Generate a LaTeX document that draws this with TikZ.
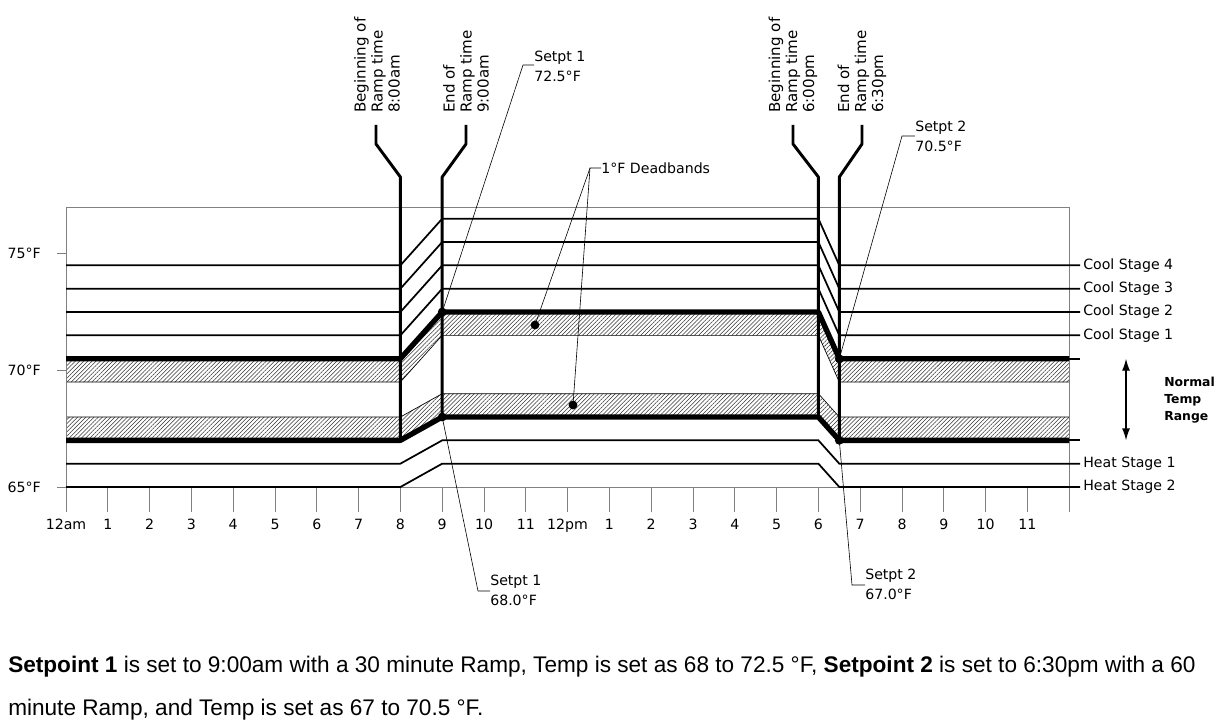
\documentclass[tikz,border=0pt]{standalone}
\usepackage{fontspec}
\setmainfont{DejaVu Sans}
\newfontfamily\capfont{Liberation Sans}
\usetikzlibrary{patterns.meta,arrows.meta}
\begin{document}
\begin{tikzpicture}[x=0.75pt,y=-0.75pt,
  declare function={hx(\p)=66+41.8*\p; ty(\q)=487-23.33*(\q-65);},
  stage/.style={line width=1.3pt},
  setp/.style={line width=4pt, line join=round},
  marker/.style={line width=2.2pt, line join=round},
  frame/.style={draw=black!50, line width=0.7pt},
  leader/.style={line width=0.45pt},
  band/.style={pattern={Lines[angle=45,distance=2.2pt,line width=0.4pt]}, pattern color=black!80},
  edge/.style={line width=0.5pt},
  lbl/.style={font=\fontsize{10.6}{15}\selectfont, inner sep=0pt, align=left},
  rlbl/.style={font=\fontsize{11.3}{12.75}\selectfont, inner sep=0pt, align=left, rotate=90, anchor=west},
  dotst/.style={fill=black},
]
\useasboundingbox (0,0) rectangle (1226,727);

% hatched deadbands
\fill[band] ({hx(0)},{ty(70.5)}) -- ({hx(8)},{ty(70.5)}) -- ({hx(9)},{ty(72.5)}) -- ({hx(18)},{ty(72.5)}) -- ({hx(18.5)},{ty(70.5)}) -- ({hx(24)},{ty(70.5)}) -- ({hx(24)},{ty(69.5)}) -- ({hx(18.5)},{ty(69.5)}) -- ({hx(18)},{ty(71.5)}) -- ({hx(9)},{ty(71.5)}) -- ({hx(8)},{ty(69.5)}) -- ({hx(0)},{ty(69.5)}) -- cycle;
\fill[band] ({hx(0)},{ty(67)}) -- ({hx(8)},{ty(67)}) -- ({hx(9)},{ty(68)}) -- ({hx(18)},{ty(68)}) -- ({hx(18.5)},{ty(67)}) -- ({hx(24)},{ty(67)}) -- ({hx(24)},{ty(68)}) -- ({hx(18.5)},{ty(68)}) -- ({hx(18)},{ty(69)}) -- ({hx(9)},{ty(69)}) -- ({hx(8)},{ty(68)}) -- ({hx(0)},{ty(68)}) -- cycle;
\draw[edge] ({hx(0)},{ty(69.5)}) -- ({hx(8)},{ty(69.5)}) -- ({hx(9)},{ty(71.5)}) -- ({hx(18)},{ty(71.5)}) -- ({hx(18.5)},{ty(69.5)}) -- ({hx(24)},{ty(69.5)});
\draw[edge] ({hx(0)},{ty(68)}) -- ({hx(8)},{ty(68)}) -- ({hx(9)},{ty(69)}) -- ({hx(18)},{ty(69)}) -- ({hx(18.5)},{ty(68)}) -- ({hx(24)},{ty(68)});

% frame and ticks
\draw[frame] (66,207) rectangle ({hx(24)},487);
\foreach \h in {0,...,24} \draw[frame] ({hx(\h)},487) -- ({hx(\h)},512);
\foreach \T in {65,70,75} {
  \draw[frame] (57,{ty(\T)}) -- (66,{ty(\T)});
  \node[lbl, anchor=east] (t\T) at (41,{ty(\T)}) {\T°F};
}
\foreach \h/\lab in {0/12am,1/1,2/2,3/3,4/4,5/5,6/6,7/7,8/8,9/9,10/10,11/11,12/12pm,13/1,14/2,15/3,16/4,17/5,18/6,19/7,20/8,21/9,22/10,23/11}
  \node[lbl, anchor=base] (h\h) at ({hx(\h)},529) {\lab};

% cool stages
\foreach \L in {71.5,72.5,73.5,74.5}
  \draw[stage] ({hx(0)},{ty(\L)}) -- ({hx(8)},{ty(\L)}) -- ({hx(9)},{ty(\L+2)}) -- ({hx(18)},{ty(\L+2)}) -- ({hx(18.5)},{ty(\L)}) -- (1080,{ty(\L)});
% heat stages
\foreach \L in {65,66}
  \draw[stage] ({hx(0)},{ty(\L)}) -- ({hx(8)},{ty(\L)}) -- ({hx(9)},{ty(\L+1)}) -- ({hx(18)},{ty(\L+1)}) -- ({hx(18.5)},{ty(\L)}) -- (1080,{ty(\L)});

% setpoints
\draw[setp] ({hx(0)},{ty(70.5)}) -- ({hx(8)},{ty(70.5)}) -- ({hx(9)},{ty(72.5)}) -- ({hx(18)},{ty(72.5)}) -- ({hx(18.5)},{ty(70.5)}) -- ({hx(24)},{ty(70.5)});
\draw[setp] ({hx(0)},{ty(67)}) -- ({hx(8)},{ty(67)}) -- ({hx(9)},{ty(68)}) -- ({hx(18)},{ty(68)}) -- ({hx(18.5)},{ty(67)}) -- ({hx(24)},{ty(67)});
\draw[stage] ({hx(24)},{ty(70.5)}) -- (1080,{ty(70.5)});
\draw[stage] ({hx(24)},{ty(67)}) -- (1080,{ty(67)});

% ramp markers
\draw[marker] (376,125) -- (376,144) -- ({hx(8)},177) -- ({hx(8)},{ty(67)});
\draw[marker] (466,125) -- (466,144) -- ({hx(9)},177) -- ({hx(9)},{ty(68)});
\draw[marker] (793,125) -- (793,144) -- ({hx(18)},177) -- ({hx(18)},{ty(68)});
\draw[marker] (862,125) -- (862,144) -- ({hx(18.5)},177) -- ({hx(18.5)},{ty(67)});
\node[rlbl] (m1) at (377,113) {Beginning of\\Ramp time\\8:00am};
\node[rlbl] (m2) at (466,113) {End of\\Ramp time\\9:00am};
\node[rlbl] (m3) at (793,113) {Beginning of\\Ramp time\\6:00pm};
\node[rlbl] (m4) at (862,113) {End of\\Ramp time\\6:30pm};

% setpoint dots
\coordinate (d1t) at ({hx(9)},{ty(72.5)});
\coordinate (d1b) at ({hx(9)},{ty(68)});
\coordinate (d2t) at ({hx(18.5)},{ty(70.5)});
\coordinate (d2b) at ({hx(18.5)},{ty(67)});
\coordinate (db1) at (535,325);
\coordinate (db2) at (573,405);
\foreach \d in {d1t,d1b,d2t,d2b,db1,db2} \fill[dotst] (\d) circle[radius=3.3pt];

% setpoint labels with leaders
\node[lbl, anchor=north west] (s1t) at (534,51) {Setpt 1\\72.5°F};
\coordinate (s1tk) at (523,65);
\draw[leader] (d1t) -- (s1tk) -- (s1tk -| s1t.west);
\node[lbl, anchor=north west] (s2t) at (915,121) {Setpt 2\\70.5°F};
\coordinate (s2tk) at (902,136);
\draw[leader] (d2t) -- (s2tk) -- (s2tk -| s2t.west);
\node[lbl, anchor=north west] (s1b) at (490,575) {Setpt 1\\68.0°F};
\coordinate (s1bk) at (478,591);
\draw[leader] (d1b) -- (s1bk) -- (s1bk -| s1b.west);
\node[lbl, anchor=north west] (s2b) at (865,569) {Setpt 2\\67.0°F};
\coordinate (s2bk) at (852,585);
\draw[leader] (d2b) -- (s2bk) -- (s2bk -| s2b.west);

% deadband label
\node[lbl, anchor=west] (dbl) at (601,168) {1°F Deadbands};
\coordinate (dbk) at (590,168);
\draw[leader] (dbl.west) -- (dbk) -- (db1);
\draw[leader] (dbk) -- (db2);

% stage labels
\node[lbl, anchor=west] (c4) at (1083,{ty(74.5)}) {Cool Stage 4};
\node[lbl, anchor=west] (c3) at (1083,{ty(73.5)}) {Cool Stage 3};
\node[lbl, anchor=west] (c2) at (1083,{ty(72.5)}) {Cool Stage 2};
\node[lbl, anchor=west] (c1) at (1083,{ty(71.5)}) {Cool Stage 1};
\node[lbl, anchor=west] (ht1) at (1083,{ty(66)}) {Heat Stage 1};
\node[lbl, anchor=west] (ht2) at (1083,{ty(65)}) {Heat Stage 2};

% normal temp range
\coordinate (ra) at (1126,{ty(70.5)});
\coordinate (rb) at (1126,{ty(67)});
\draw[line width=1pt, {Latex[length=9pt,width=6pt]}-{Latex[length=9pt,width=6pt]}] (ra) -- (rb);
\node[font=\bfseries\fontsize{9.3}{12.75}\selectfont, inner sep=0pt, align=left, anchor=west] (ntr) at (1164,400) {Normal\\Temp\\Range};

% caption
\node[font=\capfont\fontsize{16.95}{20}\selectfont, inner sep=0pt, anchor=base west] (cap1) at (8,672) {\textbf{Setpoint 1} is set to 9:00am with a 30 minute Ramp, Temp is set as 68 to 72.5 °F, \textbf{Setpoint 2} is set to 6:30pm with a 60};
\node[font=\capfont\fontsize{16.95}{20}\selectfont, inner sep=0pt, anchor=base west] (cap2) at (8,715) {minute Ramp, and Temp is set as 67 to 70.5 °F.};
\end{tikzpicture}
\end{document}
